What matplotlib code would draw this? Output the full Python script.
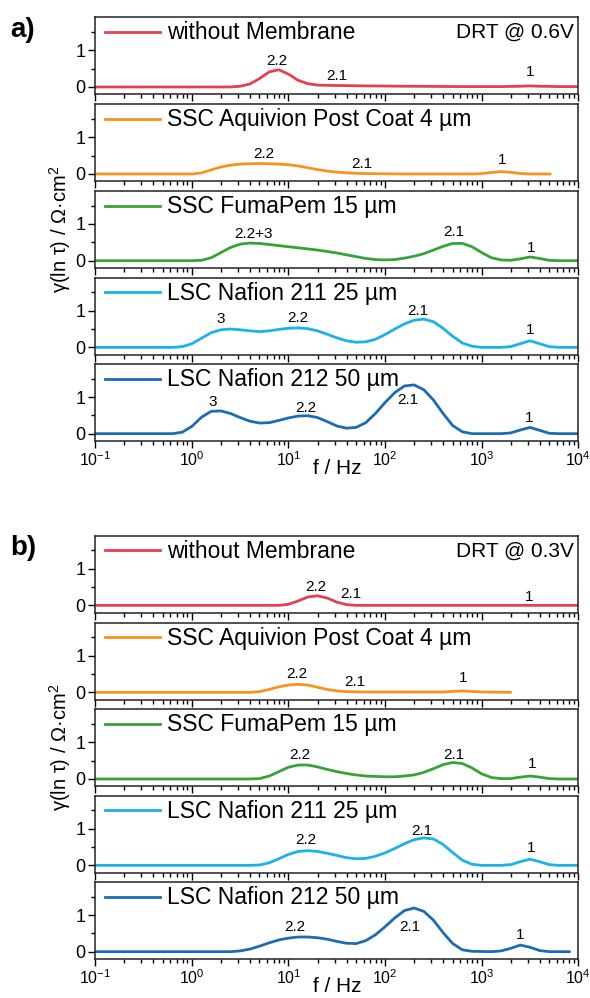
import matplotlib
matplotlib.use("Agg")
import matplotlib.pyplot as plt
import matplotlib.ticker as mticker
import numpy as np

plt.rcParams['font.family'] = ['Liberation Sans', 'DejaVu Sans']
plt.rcParams['mathtext.fontset'] = 'custom'
plt.rcParams['mathtext.rm'] = 'Liberation Sans'
plt.rcParams['mathtext.it'] = 'Liberation Sans:italic'
plt.rcParams['mathtext.bf'] = 'Liberation Sans:bold'

# nombres de las muestras y colores
labels = ["without Membrane", "SSC Aquivion Post Coat 4 µm", "SSC FumaPem 15 µm",
          "LSC Nafion 211 25 µm", "LSC Nafion 212 50 µm"]
colors = ["#E5404F", "#F7941D", "#34A535", "#1AB2EA", "#1B6CB3"]

# ---- a) DRT @ 0.6V : log10(f / Hz) y gamma ----
logf_a1 = [-1, 0.4, 0.5, 0.6, 0.7, 0.8, 0.9, 1.0, 1.1, 1.2, 1.3, 1.5, 1.8, 2.2, 2.8, 3.2, 3.4, 3.5, 3.6, 3.8, 4.0]
g_a1 = [0, 0.0, 0.02, 0.08, 0.23, 0.41, 0.47, 0.35, 0.18, 0.09, 0.05, 0.04, 0.03, 0.02, 0.01, 0.01, 0.02, 0.03, 0.02, 0.01, 0.01]

logf_a2 = [-1, 0.0, 0.1, 0.2, 0.3, 0.4, 0.5, 0.6, 0.7, 0.8, 0.9, 1.0, 1.1, 1.2, 1.3, 1.4, 1.5, 1.6, 1.8, 2.2,
           2.9, 3.0, 3.1, 3.2, 3.3, 3.4, 3.5, 3.71]
g_a2 = [0, 0.0, 0.03, 0.11, 0.19, 0.24, 0.27, 0.28, 0.285, 0.28, 0.27, 0.25, 0.22, 0.17, 0.12, 0.08, 0.05, 0.03, 0.01, 0.0,
        0.0, 0.01, 0.04, 0.065, 0.045, 0.015, 0.0, 0.0]

logf_a3 = [-1, 0.0, 0.1, 0.2, 0.3, 0.4, 0.5, 0.6, 0.7, 0.8, 0.9, 1.0, 1.1, 1.2, 1.3, 1.4, 1.5, 1.6, 1.7, 1.8, 1.9,
           2.0, 2.1, 2.2, 2.3, 2.4, 2.5, 2.6, 2.7, 2.8, 2.9, 3.0, 3.1, 3.2, 3.3, 3.4, 3.5, 3.6, 3.7, 3.8, 4.0]
g_a3 = [0, 0.0, 0.01, 0.08, 0.22, 0.36, 0.45, 0.48, 0.47, 0.44, 0.41, 0.38, 0.35, 0.32, 0.29, 0.25, 0.21, 0.16, 0.11, 0.06, 0.03,
        0.02, 0.03, 0.07, 0.12, 0.19, 0.29, 0.39, 0.47, 0.47, 0.38, 0.22, 0.08, 0.02, 0.01, 0.05, 0.1, 0.06, 0.01, 0.0, 0.0]

logf_a4 = [-1, -0.2, -0.1, 0.0, 0.1, 0.2, 0.3, 0.4, 0.5, 0.6, 0.7, 0.8, 0.9, 1.0, 1.1, 1.2, 1.3, 1.4, 1.5, 1.6, 1.7,
           1.8, 1.9, 2.0, 2.1, 2.2, 2.3, 2.4, 2.5, 2.6, 2.7, 2.8, 2.9, 3.0, 3.2, 3.3, 3.4, 3.5, 3.6, 3.7, 3.8, 4.0]
g_a4 = [0, 0.0, 0.02, 0.1, 0.25, 0.4, 0.48, 0.5, 0.48, 0.45, 0.43, 0.45, 0.49, 0.52, 0.53, 0.51, 0.45, 0.36, 0.26, 0.18, 0.14,
        0.15, 0.22, 0.35, 0.5, 0.64, 0.74, 0.77, 0.7, 0.52, 0.3, 0.12, 0.03, 0.0, 0.0, 0.02, 0.1, 0.18, 0.1, 0.02, 0.0, 0.0]

logf_a5 = [-1, -0.2, -0.1, 0.0, 0.1, 0.2, 0.3, 0.4, 0.5, 0.6, 0.7, 0.8, 0.9, 1.0, 1.1, 1.2, 1.3, 1.4, 1.5, 1.6, 1.7,
           1.8, 1.9, 2.0, 2.1, 2.2, 2.3, 2.4, 2.5, 2.6, 2.7, 2.8, 2.9, 3.2, 3.3, 3.4, 3.5, 3.6, 3.7, 3.8, 4.0]
g_a5 = [0, 0.0, 0.04, 0.2, 0.45, 0.61, 0.62, 0.55, 0.44, 0.34, 0.29, 0.3, 0.36, 0.43, 0.48, 0.49, 0.44, 0.33, 0.21, 0.15, 0.17,
        0.3, 0.55, 0.85, 1.12, 1.3, 1.33, 1.2, 0.92, 0.55, 0.22, 0.05, 0.0, 0.0, 0.02, 0.1, 0.17, 0.09, 0.01, 0.0, 0.0]

# ---- b) DRT @ 0.3V ----
logf_b1 = [-1, 0.9, 1.0, 1.1, 1.2, 1.3, 1.4, 1.5, 1.6, 1.7, 4.0]
g_b1 = [0, 0.0, 0.03, 0.12, 0.23, 0.26, 0.2, 0.09, 0.02, 0.0, 0.0]

logf_b2 = [-1, 0.6, 0.7, 0.8, 0.9, 1.0, 1.1, 1.2, 1.3, 1.4, 1.5, 1.6, 1.8, 2.2, 2.6, 2.7, 2.8, 2.9, 3.0, 3.3]
g_b2 = [0, 0.0, 0.02, 0.08, 0.15, 0.2, 0.22, 0.2, 0.14, 0.08, 0.04, 0.02, 0.01, 0.01, 0.01, 0.025, 0.04, 0.025, 0.01, 0.0]

logf_b3 = [-1, 0.6, 0.7, 0.8, 0.9, 1.0, 1.1, 1.2, 1.3, 1.4, 1.5, 1.6, 1.7, 1.8, 1.9, 2.0, 2.1, 2.2, 2.3, 2.4,
           2.5, 2.6, 2.7, 2.8, 2.9, 3.0, 3.1, 3.2, 3.3, 3.4, 3.5, 3.6, 3.7, 3.8, 4.0]
g_b3 = [0, 0.0, 0.01, 0.08, 0.2, 0.32, 0.38, 0.38, 0.33, 0.26, 0.2, 0.15, 0.11, 0.08, 0.07, 0.06, 0.06, 0.08, 0.11, 0.18,
        0.28, 0.39, 0.45, 0.42, 0.3, 0.14, 0.04, 0.01, 0.01, 0.05, 0.08, 0.05, 0.01, 0.0, 0.0]

logf_b4 = [-1, 0.6, 0.7, 0.8, 0.9, 1.0, 1.1, 1.2, 1.3, 1.4, 1.5, 1.6, 1.7, 1.8, 1.9, 2.0, 2.1, 2.2, 2.3, 2.4,
           2.5, 2.6, 2.7, 2.8, 2.9, 3.0, 3.2, 3.3, 3.4, 3.5, 3.6, 3.7, 3.8, 4.0]
g_b4 = [0, 0.0, 0.01, 0.07, 0.18, 0.3, 0.38, 0.4, 0.38, 0.33, 0.27, 0.21, 0.18, 0.19, 0.25, 0.34, 0.46, 0.59, 0.7, 0.75,
        0.72, 0.57, 0.35, 0.14, 0.03, 0.0, 0.0, 0.02, 0.1, 0.17, 0.1, 0.02, 0.0, 0.0]

logf_b5 = [-1, 0.4, 0.5, 0.6, 0.7, 0.8, 0.9, 1.0, 1.1, 1.2, 1.3, 1.4, 1.5, 1.6, 1.7, 1.8, 1.9, 2.0, 2.1, 2.2,
           2.3, 2.4, 2.5, 2.6, 2.7, 2.8, 2.9, 3.1, 3.2, 3.3, 3.4, 3.5, 3.6, 3.7, 3.91]
g_b5 = [0, 0.0, 0.02, 0.07, 0.15, 0.24, 0.32, 0.37, 0.4, 0.4, 0.38, 0.34, 0.28, 0.23, 0.22, 0.3, 0.46, 0.68, 0.92, 1.12,
        1.19, 1.1, 0.86, 0.52, 0.22, 0.05, 0.01, 0.0, 0.02, 0.09, 0.18, 0.12, 0.03, 0.0, 0.0]

# etiquetas de los picos: (texto, log10 f, gamma)
peaks_a = [
    [("2.2", 0.88, 0.72), ("2.1", 1.5, 0.31), ("1", 3.5, 0.40)],
    [("2.2", 0.74, 0.54), ("2.1", 1.76, 0.28), ("1", 3.21, 0.37)],
    [("2.2+3", 0.64, 0.72), ("2.1", 2.71, 0.77), ("1", 3.51, 0.35)],
    [("3", 0.3, 0.77), ("2.2", 1.1, 0.79), ("2.1", 2.34, 1.0), ("1", 3.5, 0.47)],
    [("3", 0.22, 0.86), ("2.2", 1.18, 0.69), ("2.1", 2.23, 0.91), ("1", 3.49, 0.42)],
]
peaks_b = [
    [("2.2", 1.28, 0.5), ("2.1", 1.64, 0.3), ("1", 3.49, 0.23)],
    [("2.2", 1.09, 0.49), ("2.1", 1.69, 0.27), ("1", 2.81, 0.39)],
    [("2.2", 1.12, 0.65), ("2.1", 2.71, 0.65), ("1", 3.52, 0.42)],
    [("2.2", 1.18, 0.69), ("2.1", 2.38, 0.95), ("1", 3.51, 0.48)],
    [("2.2", 1.07, 0.67), ("2.1", 2.26, 0.67), ("1", 3.4, 0.46)],
]

curves_a = [(logf_a1, g_a1), (logf_a2, g_a2), (logf_a3, g_a3), (logf_a4, g_a4), (logf_a5, g_a5)]
curves_b = [(logf_b1, g_b1), (logf_b2, g_b2), (logf_b3, g_b3), (logf_b4, g_b4), (logf_b5, g_b5)]

W, H = 590, 998
fig = plt.figure(figsize=(W / 100, H / 100), dpi=100)

ax_left, ax_right = 95.3, 578.3
panel_h = 77.0
tops_a = [17.3, 104.3, 191.0, 277.7, 364.0]
tops_b = [535.7, 622.7, 709.3, 795.7, 882.0]


def make_panel(top, logf, g, color, label, peaks, bottom_labels, corner_text=None):
    ax = fig.add_axes([ax_left / W, 1 - (top + panel_h) / H, (ax_right - ax_left) / W, panel_h / H])
    ax.plot(10 ** np.array(logf), g, color=color, lw=2.0, solid_capstyle='round')
    ax.set_xscale('log')
    ax.set_xlim(0.1, 1e4)
    ax.set_ylim(-0.2, 1.9)
    ax.set_yticks([0, 1])
    ax.yaxis.set_minor_locator(mticker.FixedLocator([0.5, 1.5]))
    ax.xaxis.set_major_locator(mticker.LogLocator(base=10, numticks=10))
    ax.xaxis.set_minor_locator(mticker.LogLocator(base=10, subs=np.arange(2, 10), numticks=20))
    ax.xaxis.set_minor_formatter(mticker.NullFormatter())
    ax.tick_params(axis='both', which='major', direction='out', length=5, width=1.0, labelsize=13, pad=2)
    ax.tick_params(axis='both', which='minor', direction='out', length=3, width=1.0)
    ax.tick_params(axis='x', labelsize=11.5)
    if not bottom_labels:
        ax.tick_params(axis='x', which='both', labelbottom=False)
    for s in ax.spines.values():
        s.set_linewidth(1.1)
        s.set_color('#222222')
    # leyenda manual
    ax.plot([0.02, 0.134], [0.81, 0.81], transform=ax.transAxes, color=color, lw=2.0)
    ax.text(0.148, 0.80, label, transform=ax.transAxes, fontsize=16.5, va='center', ha='left')
    for txt, lf, yv in peaks:
        ax.text(10 ** lf, yv, txt, fontsize=11, ha='center', va='center')
    if corner_text:
        ax.text(0.99, 0.80, corner_text, transform=ax.transAxes, fontsize=15, va='center', ha='right')
    return ax


for i in range(5):
    make_panel(tops_a[i], curves_a[i][0], curves_a[i][1], colors[i], labels[i], peaks_a[i],
               i == 4, "DRT @ 0.6V" if i == 0 else None)
    make_panel(tops_b[i], curves_b[i][0], curves_b[i][1], colors[i], labels[i], peaks_b[i],
               i == 4, "DRT @ 0.3V" if i == 0 else None)

fig.text(10 / W, 1 - 30 / H, "a)", fontsize=20, fontweight='bold', va='center', ha='left')
fig.text(10 / W, 1 - 548 / H, "b)", fontsize=20, fontweight='bold', va='center', ha='left')
ylab = "γ(ln τ) / Ω·cm$^2$"
fig.text(60 / W, 1 - 229 / H, ylab, fontsize=14.5, rotation=90, va='center', ha='center')
fig.text(60 / W, 1 - 747 / H, ylab, fontsize=14.5, rotation=90, va='center', ha='center')
fig.text(336.8 / W, 1 - 468 / H, "f / Hz", fontsize=15, va='center', ha='center')
fig.text(336.8 / W, 1 - 987 / H, "f / Hz", fontsize=15, va='center', ha='center')

fig.savefig("out.png", dpi=100)
